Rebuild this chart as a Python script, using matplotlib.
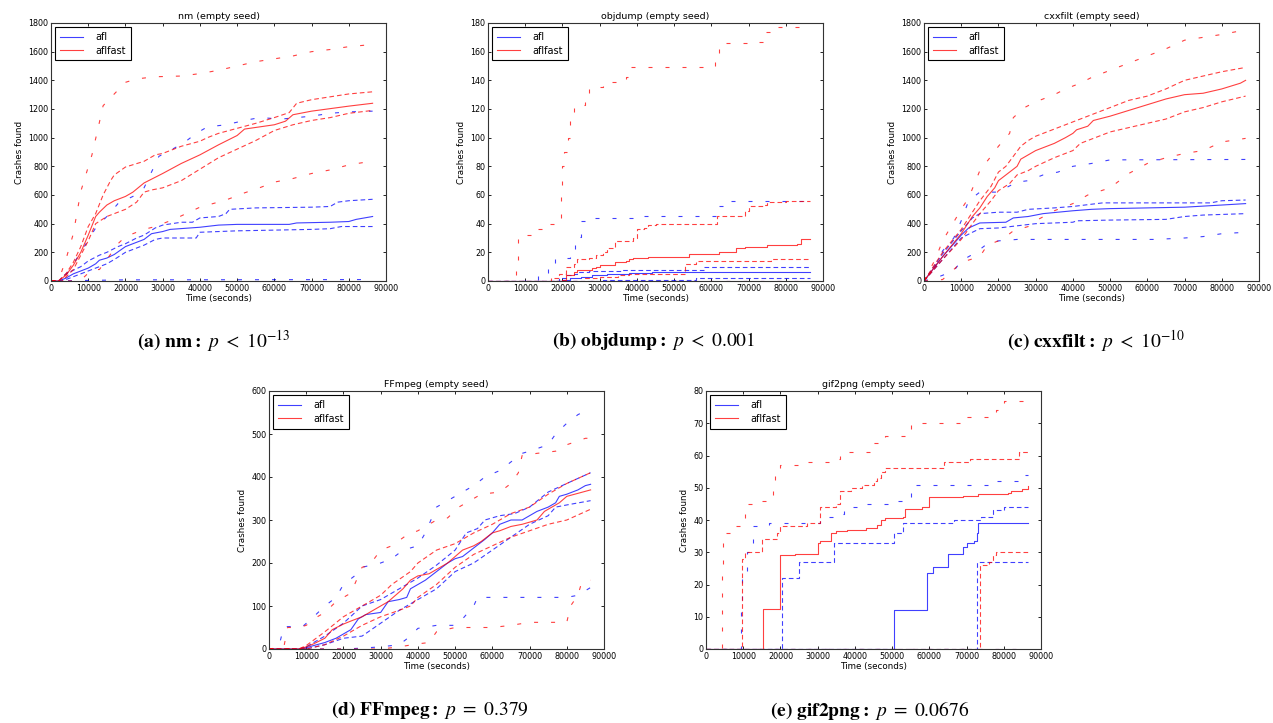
import matplotlib
matplotlib.use("Agg")
import matplotlib.pyplot as plt
import numpy as np

plt.rcParams['mathtext.fontset'] = 'stix'
plt.rcParams['font.family'] = 'DejaVu Sans'

# time in thousands of seconds, crashes found
nm_afl_med = [(0,0),(2,0),(4,20),(6,50),(8,70),(10,90),(12,120),(13,145),(15,160),(17,185),(20,240),(22,260),(25,290),(27,330),(30,345),(32,360),(40,375),(45,390),(50,395),(64,395),(66,405),(75,410),(80,415),(82,430),(86.4,450)]
nm_afl_hi = [(0,0),(2,0),(4,50),(8,100),(10,140),(13,180),(15,200),(18,240),(20,260),(23,300),(25,320),(28,370),(30,390),(35,410),(38,410),(40,440),(45,450),(47,470),(48,500),(55,510),(70,515),(75,520),(77,550),(80,560),(86.4,570)]
nm_afl_lo = [(0,0),(2,0),(4,10),(8,50),(10,70),(13,100),(15,120),(17,150),(20,200),(25,250),(28,290),(30,300),(39,300),(40,340),(50,350),(60,355),(70,360),(75,365),(78,380),(86.4,380)]
nm_afl_max = [(0,0),(2,0),(4,40),(8,200),(12,370),(15,450),(18,540),(22,590),(25,650),(27,760),(29,870),(32,910),(36,970),(39,1030),(42,1075),(47,1090),(52,1120),(56,1140),(62,1130),(66,1140),(70,1150),(75,1170),(80,1180),(86.4,1185)]
nm_afl_min = [(0,0),(20,8),(86.4,10)]
nm_fast_med = [(0,0),(2,0),(4,40),(6,110),(8,200),(10,320),(12,450),(13,480),(15,530),(17,560),(20,590),(22,620),(25,684),(30,750),(35,820),(40,880),(45,950),(50,1015),(52,1060),(60,1090),(63,1115),(65,1160),(70,1185),(80,1220),(86.4,1240)]
nm_fast_hi = [(0,0),(2,0),(4,50),(6,130),(8,240),(10,380),(12,470),(14,600),(16,700),(17,740),(20,795),(25,835),(28,880),(30,890),(35,940),(40,975),(42,1000),(45,1030),(50,1065),(55,1100),(60,1140),(64,1175),(66,1240),(70,1265),(75,1285),(80,1305),(86.4,1320)]
nm_fast_lo = [(0,0),(3,0),(6,80),(8,180),(10,280),(12,400),(15,450),(18,480),(20,500),(23,550),(25,620),(27,635),(30,650),(35,700),(40,780),(45,860),(50,920),(55,980),(60,1050),(65,1090),(70,1120),(75,1140),(80,1170),(86.4,1190)]
nm_fast_max = [(0,0),(2,0),(4,150),(6,330),(8,625),(11,880),(13,1107),(14,1223),(17,1305),(20,1386),(23,1410),(28,1425),(35,1430),(40,1447),(45,1470),(50,1500),(55,1530),(60,1550),(65,1570),(70,1600),(75,1615),(80,1635),(86.4,1650)]
nm_fast_min = [(0,0),(7,0),(9,30),(11,80),(13,80),(15,150),(18,260),(20,310),(25,360),(28,380),(33,430),(40,515),(47,565),(52,615),(56,650),(60,690),(65,715),(70,750),(75,775),(80,810),(86.4,837)]

ob_afl_med = [(0,0),(19,0),(20,1),(22,2),(25,3),(28,4),(32,5),(38,5.5),(44,6),(57,6.5),(86.4,6.5)]
ob_afl_hi = [(0,0),(17,0),(19,2),(21,4),(23,5),(24,6),(27,7),(36,8),(58,10),(86.4,10)]
ob_afl_lo = [(0,0),(31,1),(56,2),(86.4,2)]
ob_afl_max = [(0,0),(10,1),(13.5,5),(16,12),(18,16),(22,22),(23.5,31),(25,42),(28,44),(39,45),(61.5,52),(63,56),(86.4,57)]
ob_afl_min = [(0,0),(86.4,0)]
ob_fast_med = [(0,0),(20,1),(21,4),(23,6),(24,8),(28,9),(29,10),(30,11),(34,13),(37,14),(38,15),(39,16),(43,17),(54,19),(62,20),(66.5,23),(69,24),(75,25),(83,26),(84,29),(86.4,29)]
ob_fast_hi = [(0,0),(17,2),(19,5),(21,10),(23,12),(24,15),(27,16),(29,18),(31,20),(32,23),(34,28),(39,30),(40,36),(42,37),(43,39),(45,40),(61.5,45),(69,49),(70,52),(74,53),(75,55),(80,56),(86.4,56)]
ob_fast_lo = [(0,0),(26,2),(30,3),(35,4),(38,5),(53,12),(56,14),(76,15),(86.4,15)]
ob_fast_max = [(0,0),(7.5,8),(8,32),(12.5,36),(15,40),(19,44),(19.5,60),(20,80),(20.5,90),(21.5,100),(22,114),(23,123),(26,129),(27,135),(31,139),(37,142),(38,149),(61,158),(62,166),(72,167),(74,174),(77,177),(86.4,177)]
ob_fast_min = [(0,0),(86.4,0)]

cx_afl_med = [(0,0),(5,170),(10,320),(12,370),(15,405),(22,410),(24,440),(28,450),(30,460),(32,470),(40,490),(45,500),(50,505),(60,510),(70,515),(80,530),(86.4,540)]
cx_afl_hi = [(0,0),(5,190),(10,350),(13,440),(15,470),(20,480),(25,480),(28,500),(35,510),(40,520),(48,545),(77,545),(80,560),(86.4,565)]
cx_afl_lo = [(0,0),(5,150),(10,300),(13,340),(15,365),(20,370),(25,385),(30,400),(40,410),(41,420),(50,425),(65,430),(70,450),(75,460),(86.4,470)]
cx_afl_max = [(0,0),(3,100),(5,210),(8,300),(10,420),(12,560),(15,620),(20,620),(22,650),(25,690),(28,700),(32,740),(36,760),(40,800),(45,820),(50,845),(86.4,848)]
cx_afl_min = [(0,0),(4,30),(8,70),(10,140),(14,200),(17,260),(20,280),(25,290),(62,290),(70,300),(75,310),(80,330),(86.4,340)]
cx_fast_med = [(0,0),(5,170),(10,330),(13,450),(15,510),(17,590),(19,650),(20,700),(22,740),(24,780),(25,800),(26,850),(28,880),(30,910),(33,940),(35,960),(38,1000),(40,1030),(41,1055),(44,1080),(45.5,1120),(50,1150),(55,1190),(60,1230),(65,1270),(70,1300),(75,1310),(80,1340),(85,1380),(86.4,1400)]
cx_fast_hi = [(0,0),(5,200),(10,360),(13,480),(15,560),(18,660),(20,760),(22,800),(24,870),(26,940),(28,980),(30,1010),(35,1060),(40,1110),(45,1160),(50,1210),(55,1260),(60,1290),(65,1340),(70,1400),(75,1430),(80,1460),(86.4,1490)]
cx_fast_lo = [(0,0),(5,150),(10,290),(13,400),(15,470),(18,560),(20,630),(23,680),(25,740),(28,770),(30,800),(35,860),(40,910),(42,960),(45,990),(50,1040),(55,1070),(60,1100),(65,1130),(70,1180),(75,1210),(80,1250),(86.4,1290)]
cx_fast_max = [(0,0),(3,150),(5,280),(10,500),(12,580),(15,770),(18,870),(20,940),(23,1030),(24,1140),(27,1210),(30,1250),(35,1300),(38,1340),(42,1380),(45,1420),(50,1470),(55,1520),(60,1570),(65,1620),(70,1680),(75,1700),(80,1720),(84,1740),(86.4,1740)]
cx_fast_min = [(0,0),(5,10),(8,80),(10,130),(15,170),(17,250),(21,290),(24,350),(28,380),(30,420),(35,490),(40,540),(44,600),(50,650),(55,750),(60,820),(65,860),(70,890),(75,910),(80,970),(86.4,995)]

ff_afl_med = [(0,0),(8,0),(10,3),(12,8),(15,15),(18,25),(20,35),(22,45),(24,70),(26,80),(30,85),(32,110),(35,115),(37,120),(38,140),(40,150),(42,160),(45,180),(48,200),(50,210),(52,215),(55,235),(58,255),(60,270),(62,290),(65,300),(68,300),(70,310),(72,320),(75,330),(77,340),(78,355),(80,360),(83,370),(85,380),(86.4,383)]
ff_afl_hi = [(0,0),(8,0),(10,5),(15,30),(20,60),(25,100),(30,115),(35,140),(40,165),(45,195),(50,230),(53,270),(56,280),(58,300),(62,310),(66,315),(70,330),(75,365),(80,385),(86.4,410)]
ff_afl_lo = [(0,0),(10,0),(15,10),(20,25),(25,30),(30,60),(35,90),(40,115),(45,140),(50,180),(55,200),(60,230),(65,260),(70,290),(75,310),(77,330),(80,335),(86.4,345)]
ff_afl_max = [(0,0),(2,0),(3,18),(4,52),(9,52),(12,75),(15,100),(18,120),(20,150),(23,170),(25,190),(30,200),(33,210),(36,230),(40,240),(42,270),(45,330),(48,345),(52,365),(55,380),(58,400),(62,415),(65,435),(68,455),(70,460),(75,475),(77,500),(80,525),(83,545),(86.4,560)]
ff_afl_min = [(0,0),(20,0),(25,2),(30,5),(35,10),(38,30),(40,48),(45,55),(50,55),(52,70),(55,100),(56,120),(80,120),(83,125),(86.4,143)]
ff_fast_med = [(0,0),(8,0),(10,5),(12,12),(15,25),(17,45),(20,58),(22,65),(25,75),(27,85),(30,100),(32,110),(34,125),(36,140),(38,160),(40,170),(43,175),(46,190),(48,200),(50,215),(52,230),(55,240),(57,250),(60,270),(62,275),(65,285),(68,290),(70,295),(72,300),(74,320),(76,330),(78,340),(80,355),(83,362),(86.4,370)]
ff_fast_hi = [(0,0),(8,0),(10,8),(15,40),(20,75),(25,100),(30,125),(33,150),(38,180),(40,200),(45,230),(50,245),(55,270),(60,290),(65,315),(70,330),(75,360),(80,385),(86.4,410)]
ff_fast_lo = [(0,0),(10,0),(15,10),(20,30),(25,55),(30,75),(35,90),(38,100),(40,120),(45,150),(50,190),(55,220),(60,240),(65,260),(70,275),(75,290),(80,300),(86.4,325)]
ff_fast_max = [(0,0),(4,5),(5,50),(8,50),(10,55),(13,75),(15,85),(18,110),(20,120),(22,130),(25,190),(27,195),(30,230),(33,240),(37,265),(40,275),(45,300),(48,305),(51,330),(54,345),(57,360),(62,365),(65,385),(67,410),(68,450),(72,455),(77,460),(80,475),(85,490),(86.4,490)]
ff_fast_min = [(0,0),(30,0),(35,5),(40,12),(43,15),(45,40),(50,50),(60,50),(65,55),(70,62),(80,62),(81,100),(83,125),(84,155),(86.4,160)]

gp_afl_med = [(0,0),(50.5,12),(59.5,23.5),(61,25.5),(65,29.5),(69,31.5),(70,33),(72,33.5),(72.8,36),(73.2,39),(86.4,39)]
gp_afl_hi = [(0,0),(20.3,22),(25,27),(34.5,33),(50.5,36),(53,39),(66.5,40),(74,41),(77,43),(80,44),(86.4,44)]
gp_afl_lo = [(0,0),(72.7,27),(86.4,27)]
gp_afl_max = [(0,0),(9.5,12),(9.8,24),(11,30),(12.5,38),(17,39),(30.5,41),(34,42),(37,44),(42,45),(51.5,46),(55,51),(77,52),(85,54),(86.4,54)]
gp_afl_min = [(0,0),(86.4,0)]
gp_fast_med = [(0,0),(15.2,12.5),(20,29),(24,29.5),(30,33),(30.5,33.5),(33.5,36),(35,36.5),(38,37),(43,37.5),(46,38.5),(47,40),(48,40.5),(53,41),(53.5,43.5),(58,44),(60,47),(69,47.5),(73,48),(81,48.5),(82,49),(85,49.5),(86.4,50.5)]
gp_fast_hi = [(0,0),(9.8,28),(10.5,30),(15,34),(19,36),(20,38),(27,39),(30.5,44),(35,45),(36,49),(39,50),(42,51),(45,52),(46,53),(47,55),(48,56),(64,58),(71,59),(84,61),(86.4,61)]
gp_fast_lo = [(0,0),(73.5,26),(76,27),(77,29),(78,30),(86.4,30)]
gp_fast_max = [(0,0),(4.2,24),(4.5,36),(7,38),(10.5,45),(15,46),(18,50),(18.5,55),(20,57),(25,58),(35,59),(36,61),(45,64),(48,66),(55,70),(70,72),(78,74),(80,77),(86.4,77)]
gp_fast_min = [(0,0),(86.4,0)]

captions = [r"$\mathbf{(a)\ nm{:}}\ p\ <\ 10^{-13}$",
            r"$\mathbf{(b)\ objdump{:}}\ p\ <\ 0.001$",
            r"$\mathbf{(c)\ cxxfilt{:}}\ p\ <\ 10^{-10}$",
            r"$\mathbf{(d)\ FFmpeg{:}}\ p\ =\ 0.379$",
            r"$\mathbf{(e)\ gif2png{:}}\ p\ =\ 0.0676$"]

FS = 5.8
LW = 0.8
INNER = (4.2, 2.7)
OUTER = (3.6, 11.7)


def curve(ax, pts, color, dashes=None, label=None, steps=False):
    t = np.array([p[0] for p in pts]) * 1000
    y = np.array([p[1] for p in pts])
    kw = dict(color=color, lw=LW, alpha=0.75, label=label)
    if steps:
        kw['drawstyle'] = 'steps-post'
    if dashes:
        kw['dashes'] = dashes
    ax.plot(t, y, **kw)


def draw(ax, title, ymax, ystep, afl, fast, steps=False):
    for lines, color, name in ((afl, 'b', 'afl'), (fast, 'r', 'aflfast')):
        med, hi, lo, mx, mn = lines
        curve(ax, mx, color, OUTER, steps=steps)
        curve(ax, mn, color, OUTER, steps=steps)
        curve(ax, hi, color, INNER, steps=steps)
        curve(ax, lo, color, INNER, steps=steps)
        curve(ax, med, color, label=name, steps=steps)
    ax.set_xlim(0, 90000)
    ax.set_ylim(0, ymax)
    ax.set_xticks(np.arange(0, 90001, 10000))
    ax.set_yticks(np.arange(0, ymax + 1, ystep))
    ax.tick_params(direction='in', top=True, right=True, labelsize=FS, length=2.5, width=0.6, pad=2)
    for s in ax.spines.values():
        s.set_linewidth(0.8)
        s.set_color('#333333')
    ax.set_title(title, fontsize=6.8, pad=3)
    ax.set_xlabel('Time (seconds)', fontsize=6.3, labelpad=1)
    ax.set_ylabel('Crashes found', fontsize=6.3, labelpad=3)
    h, l = ax.get_legend_handles_labels()
    leg = ax.legend(h, l, loc='upper left', fontsize=7,
                    fancybox=False, framealpha=1, edgecolor='black', borderaxespad=0.45,
                    handlelength=2.3, handletextpad=1.3, borderpad=0.5, labelspacing=0.35)
    leg.get_frame().set_linewidth(0.8)


fig = plt.figure(figsize=(12.73, 7.23), dpi=100)
W, H = 1273.0, 723.0
boxes = [(51, 23), (488, 23), (924, 23), (269, 391), (706, 391)]
axes = [fig.add_axes([x / W, 1 - (y + 258) / H, 335 / W, 258 / H]) for x, y in boxes]

draw(axes[0], 'nm (empty seed)', 1800, 200,
     (nm_afl_med, nm_afl_hi, nm_afl_lo, nm_afl_max, nm_afl_min),
     (nm_fast_med, nm_fast_hi, nm_fast_lo, nm_fast_max, nm_fast_min))
draw(axes[1], 'objdump (empty seed)', 180, 20,
     (ob_afl_med, ob_afl_hi, ob_afl_lo, ob_afl_max, ob_afl_min),
     (ob_fast_med, ob_fast_hi, ob_fast_lo, ob_fast_max, ob_fast_min), steps=True)
draw(axes[2], 'cxxfilt (empty seed)', 1800, 200,
     (cx_afl_med, cx_afl_hi, cx_afl_lo, cx_afl_max, cx_afl_min),
     (cx_fast_med, cx_fast_hi, cx_fast_lo, cx_fast_max, cx_fast_min))
draw(axes[3], 'FFmpeg (empty seed)', 600, 100,
     (ff_afl_med, ff_afl_hi, ff_afl_lo, ff_afl_max, ff_afl_min),
     (ff_fast_med, ff_fast_hi, ff_fast_lo, ff_fast_max, ff_fast_min))
draw(axes[4], 'gif2png (empty seed)', 80, 10,
     (gp_afl_med, gp_afl_hi, gp_afl_lo, gp_afl_max, gp_afl_min),
     (gp_fast_med, gp_fast_hi, gp_fast_lo, gp_fast_max, gp_fast_min), steps=True)

cap_pos = [(214, 341), (654, 341), (1096, 341), (430, 710), (870, 710)]
for (cx, cy), txt in zip(cap_pos, captions):
    fig.text(cx / W, 1 - cy / H, txt, ha='center', va='center', fontsize=14)

fig.savefig('out.png', dpi=100, facecolor='white')
